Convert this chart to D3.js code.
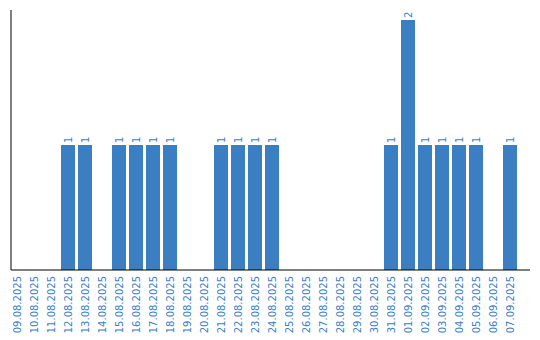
<!DOCTYPE html>
<html>
<head>
<meta charset="utf-8">
<script src="https://cdn.jsdelivr.net/npm/d3@7"></script>
<style>
    body { margin: 0; background: #fff; }
    text { font-family: "DejaVu Sans", Verdana, sans-serif; }
</style>
</head>
<body>
<div id="chart"></div>
<script>
var dates = ["09.08.2025", "10.08.2025", "11.08.2025", "12.08.2025", "13.08.2025",
    "14.08.2025", "15.08.2025", "16.08.2025", "17.08.2025", "18.08.2025",
    "19.08.2025", "20.08.2025", "21.08.2025", "22.08.2025", "23.08.2025",
    "24.08.2025", "25.08.2025", "26.08.2025", "27.08.2025", "28.08.2025",
    "29.08.2025", "30.08.2025", "31.08.2025", "01.09.2025", "02.09.2025",
    "03.09.2025", "04.09.2025", "05.09.2025", "06.09.2025", "07.09.2025"];
var counts = [0, 0, 0, 1, 1, 0, 1, 1, 1, 1,
    0, 0, 1, 1, 1, 1, 0, 0, 0, 0,
    0, 0, 1, 2, 1, 1, 1, 1, 0, 1];

var width = 540, height = 340;
var blue = "#3b7ec2";

var svg = d3.select("#chart")
    .append("svg")
    .attr("width", width)
    .attr("height", height);

var x = d3.scaleBand()
    .domain(dates)
    .range([10, 517])
    .paddingInner(3 / 17)
    .paddingOuter(0)
    .align(0);

var y = d3.scaleLinear()
    .domain([0, d3.max(counts) * 1.04])
    .range([270, 10]);

var data = dates.map(function(d, i) { return { date: d, count: counts[i] }; });

//bars
svg.selectAll("rect.bar")
    .data(data.filter(function(d) { return d.count > 0; }))
    .enter()
    .append("rect")
    .attr("class", "bar")
    .attr("x", function(d) { return x(d.date); })
    .attr("y", function(d) { return y(d.count); })
    .attr("width", x.bandwidth())
    .attr("height", function(d) { return y(0) - y(d.count); })
    .attr("fill", blue);

//value labels, rotated
svg.selectAll("text.val")
    .data(data.filter(function(d) { return d.count > 0; }))
    .enter()
    .append("text")
    .attr("class", "val")
    .attr("transform", function(d) {
        return "translate(" + (x(d.date) + x.bandwidth() / 2 + 3.5) + "," + (y(d.count) - 2) + ") rotate(-90)";
    })
    .attr("font-size", 10)
    .attr("fill", blue)
    .text(function(d) { return d.count; });

//axes
var xAxis = svg.append("g")
    .attr("transform", "translate(0,270)")
    .call(d3.axisBottom(x).tickSize(0).tickPadding(0));
xAxis.select(".domain").remove();
xAxis.append("line")
    .attr("x1", 11).attr("x2", 530)
    .attr("y1", 0).attr("y2", 0)
    .attr("stroke", "#000");
xAxis.selectAll(".tick text")
    .attr("font-family", "DejaVu Sans, sans-serif")
    .attr("font-size", 10)
    .attr("fill", blue)
    .attr("text-anchor", "end")
    .attr("dy", null)
    .attr("y", 0)
    .attr("transform", "translate(3.5,6) rotate(-90)");

svg.append("line")
    .attr("x1", 11).attr("x2", 11)
    .attr("y1", 10).attr("y2", 270)
    .attr("stroke", "#000");
</script>
</body>
</html>
